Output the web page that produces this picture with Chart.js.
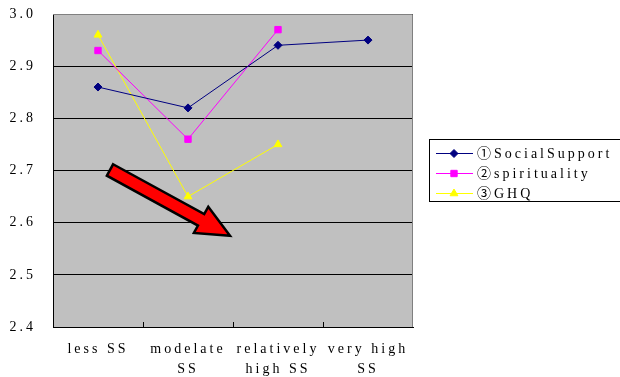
<!DOCTYPE html>
<html>
<head>
<meta charset="utf-8">
<script src="https://cdn.jsdelivr.net/npm/chart.js@4"></script>
<style>
html,body{margin:0;padding:0;background:#fff}
#wrap{position:relative;width:620px;height:377px}
</style>
</head>
<body>
<div id="wrap"><canvas id="c" width="620" height="377"></canvas></div>
<script>
// datos
const LABELS=['less SS',['modelate','SS'],['relatively','high SS'],['very high','SS']];
const SOCIAL=[2.86,2.82,2.94,2.95];
const SPIRIT=[2.93,2.76,2.97,null];
const GHQ=[2.96,2.65,2.75,null];
const SERIES_NAMES=['①SocialSupport','②spirituality','③GHQ'];
const Y_MIN=2.4, Y_MAX=3.0, Y_STEP=0.1;
// flecha roja (en coordenadas de datos: indice de categoria, valor)
const ARROW_FROM=[0.133,2.701], ARROW_TO=[1.467,2.575];

const FONT='"Liberation Serif","Noto Sans CJK JP","DejaVu Serif",serif';
const COLS=['#000080','#FF00FF','#FFFF00'];
const MARKS=['rectRot','rect','triangle'];

const spacing={id:'spacing',
  beforeLayout(c){c.ctx.letterSpacing='3px'},
  beforeDraw(c){c.ctx.letterSpacing='3px'}
};

const plotBg={id:'plotBg',
  beforeDraw(c){
    const a=c.chartArea,ctx=c.ctx;
    ctx.save();ctx.fillStyle='#C0C0C0';ctx.fillRect(a.left,a.top,a.right-a.left,a.bottom-a.top);ctx.restore();
  },
  afterDraw(c){
    const a=c.chartArea,ctx=c.ctx;
    ctx.save();
    ctx.strokeStyle='#808080';ctx.lineWidth=1;
    ctx.beginPath();ctx.moveTo(a.left,a.top+0.5);ctx.lineTo(a.right-0.5,a.top+0.5);ctx.lineTo(a.right-0.5,a.bottom);ctx.stroke();
    // marcas del eje x hacia adentro
    ctx.strokeStyle='#000';
    const n=LABELS.length,w=(a.right-a.left)/n;
    for(let i=1;i<n;i++){const x=Math.round(a.left+i*w)+0.5;ctx.beginPath();ctx.moveTo(x,a.bottom);ctx.lineTo(x,a.bottom-5);ctx.stroke();}
    ctx.restore();
  }
};

const arrow={id:'arrow',
  afterDatasetsDraw(c){
    const xs=c.scales.x,ys=c.scales.y,ctx=c.ctx;
    const x0=xs.getPixelForValue(ARROW_FROM[0]),y0=ys.getPixelForValue(ARROW_FROM[1]);
    const x1=xs.getPixelForValue(ARROW_TO[0]),y1=ys.getPixelForValue(ARROW_TO[1]);
    const ang=Math.atan2(y1-y0,x1-x0),len=Math.hypot(x1-x0,y1-y0);
    const sw=6.5,hw=15,hl=33;
    ctx.save();ctx.translate(x0,y0);ctx.rotate(ang);
    ctx.beginPath();
    ctx.moveTo(0,-sw);ctx.lineTo(len-hl,-sw);ctx.lineTo(len-hl,-hw);ctx.lineTo(len,0);
    ctx.lineTo(len-hl,hw);ctx.lineTo(len-hl,sw);ctx.lineTo(0,sw);ctx.closePath();
    ctx.fillStyle='#FF0000';ctx.fill();
    ctx.lineWidth=2.5;ctx.lineJoin='miter';ctx.strokeStyle='#000';ctx.stroke();
    ctx.restore();
  }
};

const legendBox={id:'legendBox',
  afterDraw(c){
    const ctx=c.ctx;
    ctx.save();
    ctx.letterSpacing='3px';
    ctx.strokeStyle='#000';ctx.lineWidth=1;
    ctx.strokeRect(429.5,139.5,200,62);
    ctx.font='14px '+FONT;ctx.textBaseline='middle';ctx.fillStyle='#000';
    c.data.datasets.forEach((ds,i)=>{
      const y=153+i*20;
      ctx.strokeStyle=ds.borderColor;ctx.lineWidth=1;
      ctx.beginPath();ctx.moveTo(436,y+0.5);ctx.lineTo(473,y+0.5);ctx.stroke();
      ctx.fillStyle=ds.borderColor;
      Chart.helpers.drawPoint(ctx,{pointStyle:ds.pointStyle,radius:ds.pointRadius,borderWidth:1},454,y+0.5);
      ctx.fillStyle='#000';
      ctx.font='14px '+FONT;
      ctx.fillText(ds.label,477,y+1);
    });
    ctx.restore();
  }
};

function mkDS(label,data,i){
  return{label,data,borderColor:COLS[i],backgroundColor:COLS[i],borderWidth:1,
    pointStyle:MARKS[i],pointRadius:i===0?4:4.5,pointBorderWidth:1,pointHoverRadius:5,
    spanGaps:false,tension:0,fill:false};
}

new Chart(document.getElementById('c'),{
  type:'line',
  data:{labels:LABELS,datasets:[mkDS(SERIES_NAMES[0],SOCIAL,0),mkDS(SERIES_NAMES[1],SPIRIT,1),mkDS(SERIES_NAMES[2],GHQ,2)]},
  options:{responsive:false,animation:false,
    layout:{padding:{top:14,right:207,left:0,bottom:0}},
    plugins:{legend:{display:false},tooltip:{enabled:false}},
    scales:{
      x:{offset:true,
        grid:{display:false,offset:true},
        border:{color:'#000',width:1},
        ticks:{font:{family:FONT,size:14,lineHeight:1.4},color:'#000',padding:5,maxRotation:0,autoSkip:false},
        afterFit(s){s.height=50;s.paddingLeft=0;s.paddingRight=0}},
      y:{min:Y_MIN,max:Y_MAX,
        grid:{color:'#000',lineWidth:1,drawTicks:false},
        border:{color:'#000',width:1},
        ticks:{stepSize:Y_STEP,font:{family:FONT,size:14},color:'#000',padding:17,callback:v=>v.toFixed(1)},
        afterFit(s){s.width=53;s.paddingTop=0;s.paddingBottom=0}}
    }
  },
  plugins:[spacing,plotBg,arrow,legendBox]
});
</script>
</body>
</html>
